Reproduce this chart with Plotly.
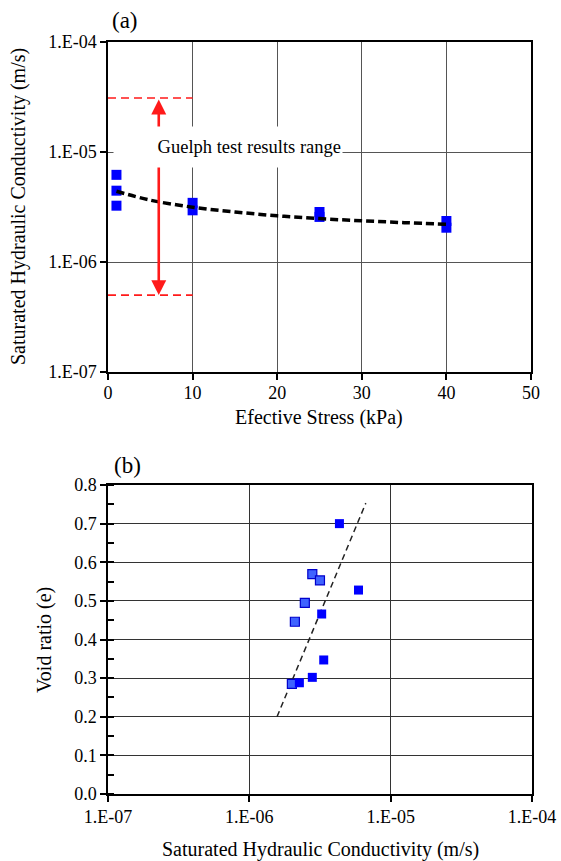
import math
import plotly.graph_objects as go

W, H = 561, 861

# ---------------- data: panel (a) ----------------
stress_kpa = [1, 1, 1, 10, 10, 25, 25, 40, 40]
ksat_a = [6.2e-6, 4.45e-6, 3.25e-6, 3.45e-6, 2.95e-6, 2.85e-6, 2.57e-6, 2.36e-6, 2.05e-6]

fit_stress = [1, 5, 10, 15, 20, 25, 30, 35, 40]
fit_ksat = [4.4e-6, 3.65e-6, 3.15e-6, 2.85e-6, 2.63e-6, 2.48e-6, 2.37e-6, 2.28e-6, 2.2e-6]

guelph_min = 5.0e-7
guelph_max = 3.1e-5
guelph_x = 6
guelph_span = [0, 10]

# ---------------- data: panel (b) ----------------
ksat_b_dark = [4.34e-6, 5.92e-6, 3.25e-6, 3.36e-6, 2.79e-6, 2.26e-6]
void_b_dark = [0.70, 0.528, 0.466, 0.347, 0.302, 0.288]
ksat_b_light = [2.79e-6, 3.16e-6, 2.47e-6, 2.10e-6, 2.0e-6]
void_b_light = [0.569, 0.553, 0.495, 0.446, 0.285]

trend_ksat = [1.57e-6, 6.67e-6]
trend_void = [0.20, 0.753]

log_tickvals = [1e-7, 1e-6, 1e-5, 1e-4]
log_ticktext = ["1.E-07", "1.E-06", "1.E-05", "1.E-04"]

FONT = "Liberation Serif, Times New Roman, serif"


def PX(px):
    return px / W


def PY(py):
    return 1 - py / H


fig = go.Figure()

# panel (a)
fig.add_trace(go.Scatter(x=guelph_span, y=[guelph_max, guelph_max], mode="lines",
                         line=dict(color="#ff1a1a", width=1.6, dash="8px,5px"),
                         xaxis="x", yaxis="y", hoverinfo="skip"))
fig.add_trace(go.Scatter(x=guelph_span, y=[guelph_min, guelph_min], mode="lines",
                         line=dict(color="#ff1a1a", width=1.6, dash="8px,5px"),
                         xaxis="x", yaxis="y", hoverinfo="skip"))
fig.add_trace(go.Scatter(x=stress_kpa, y=ksat_a, mode="markers",
                         marker=dict(symbol="square", size=10, color="#0000ff"),
                         xaxis="x", yaxis="y"))
fig.add_trace(go.Scatter(x=fit_stress, y=fit_ksat, mode="lines",
                         line=dict(color="black", width=3.5, dash="8px,4px", shape="spline"),
                         xaxis="x", yaxis="y"))

# panel (b)
fig.add_trace(go.Scatter(x=trend_ksat, y=trend_void, mode="lines",
                         line=dict(color="#222222", width=1.5, dash="6px,4px"),
                         xaxis="x2", yaxis="y2"))
fig.add_trace(go.Scatter(x=ksat_b_light, y=void_b_light, mode="markers",
                         marker=dict(symbol="square", size=9, color="#3f63ff",
                                     line=dict(color="#0000cc", width=1.2)),
                         xaxis="x2", yaxis="y2"))
fig.add_trace(go.Scatter(x=ksat_b_dark, y=void_b_dark, mode="markers",
                         marker=dict(symbol="square", size=9, color="#0000ff"),
                         xaxis="x2", yaxis="y2"))

axis_common = dict(showline=True, mirror=True, linecolor="black", linewidth=1.5,
                   showgrid=True, zeroline=False, automargin=False,
                   ticks="outside", ticklen=6, tickcolor="black", tickwidth=1.5,
                   tickfont=dict(family=FONT, size=18, color="black"))
grid_a = dict(gridcolor="#555555", gridwidth=1)
grid_b = dict(gridcolor="#333333", gridwidth=1.2)

fig.update_layout(
    template="none",
    width=W, height=H,
    margin=dict(l=0, r=0, t=0, b=0, pad=0),
    paper_bgcolor="white", plot_bgcolor="white",
    showlegend=False,
    font=dict(family=FONT, color="black"),
    xaxis=dict(domain=[PX(108), PX(531)], range=[0, 50], dtick=10, tick0=0,
               anchor="y", ticklabelstandoff=-2, **grid_a, **axis_common),
    yaxis=dict(domain=[PY(372), PY(42)], type="log", range=[-7, -4],
               tickvals=log_tickvals, ticktext=log_ticktext, anchor="x",
               **grid_a, **axis_common),
    xaxis2=dict(domain=[PX(108), PX(532)], type="log", range=[-7, -4],
                tickvals=log_tickvals, ticktext=log_ticktext, anchor="y2",
                **grid_b, **axis_common),
    yaxis2=dict(domain=[PY(794), PY(485)], range=[0, 0.8], dtick=0.1, tickformat=".1f",
                anchor="x2",
                minor=dict(dtick=0.05, ticks="inside", ticklen=6, tickcolor="black",
                           tickwidth=1.5, showgrid=False),
                **grid_b, **axis_common),
)

ann = []
# double-headed arrow for Guelph range
ann.append(dict(xref="x", yref="y", axref="x", ayref="y",
                x=guelph_x, y=math.log10(guelph_min),
                ax=guelph_x, ay=math.log10(guelph_max),
                text="", showarrow=True, arrowhead=2, arrowside="end+start",
                arrowsize=1.15, arrowwidth=2.6, arrowcolor="#ff1a1a",
                standoff=0, startstandoff=0))
# label box
ann.append(dict(xref="paper", yref="paper", x=PX(343), y=PY(147),
                xanchor="right", yanchor="middle", width=226, height=38, align="right",
                text="Guelph test results range", showarrow=False, bgcolor="white",
                font=dict(family=FONT, size=18.5, color="black")))
# panel labels
ann.append(dict(xref="paper", yref="paper", x=PX(125), y=PY(20), xanchor="center",
                yanchor="middle", text="(a)", showarrow=False,
                font=dict(family=FONT, size=23, color="black")))
ann.append(dict(xref="paper", yref="paper", x=PX(127), y=PY(465), xanchor="center",
                yanchor="middle", text="(b)", showarrow=False,
                font=dict(family=FONT, size=23, color="black")))
# axis titles
ann.append(dict(xref="paper", yref="paper", x=PX(18), y=PY(207), xanchor="center",
                yanchor="middle", textangle=-90, showarrow=False,
                text="Saturated Hydraulic Conductivity (m/s)",
                font=dict(family=FONT, size=20, color="black")))
ann.append(dict(xref="paper", yref="paper", x=PX(319.5), y=PY(417), xanchor="center",
                yanchor="middle", showarrow=False, text="Efective Stress (kPa)",
                font=dict(family=FONT, size=20, color="black")))
ann.append(dict(xref="paper", yref="paper", x=PX(44), y=PY(640), xanchor="center",
                yanchor="middle", textangle=-90, showarrow=False, text="Void ratio (e)",
                font=dict(family=FONT, size=20, color="black")))
ann.append(dict(xref="paper", yref="paper", x=PX(320), y=PY(849), xanchor="center",
                yanchor="middle", showarrow=False,
                text="Saturated Hydraulic Conductivity (m/s)",
                font=dict(family=FONT, size=20, color="black")))
fig.update_layout(annotations=ann)

fig.write_html("out.html",
               config={"displayModeBar": False},
               post_script="document.body.style.margin='0';"
                           "document.body.style.overflow='hidden';")
